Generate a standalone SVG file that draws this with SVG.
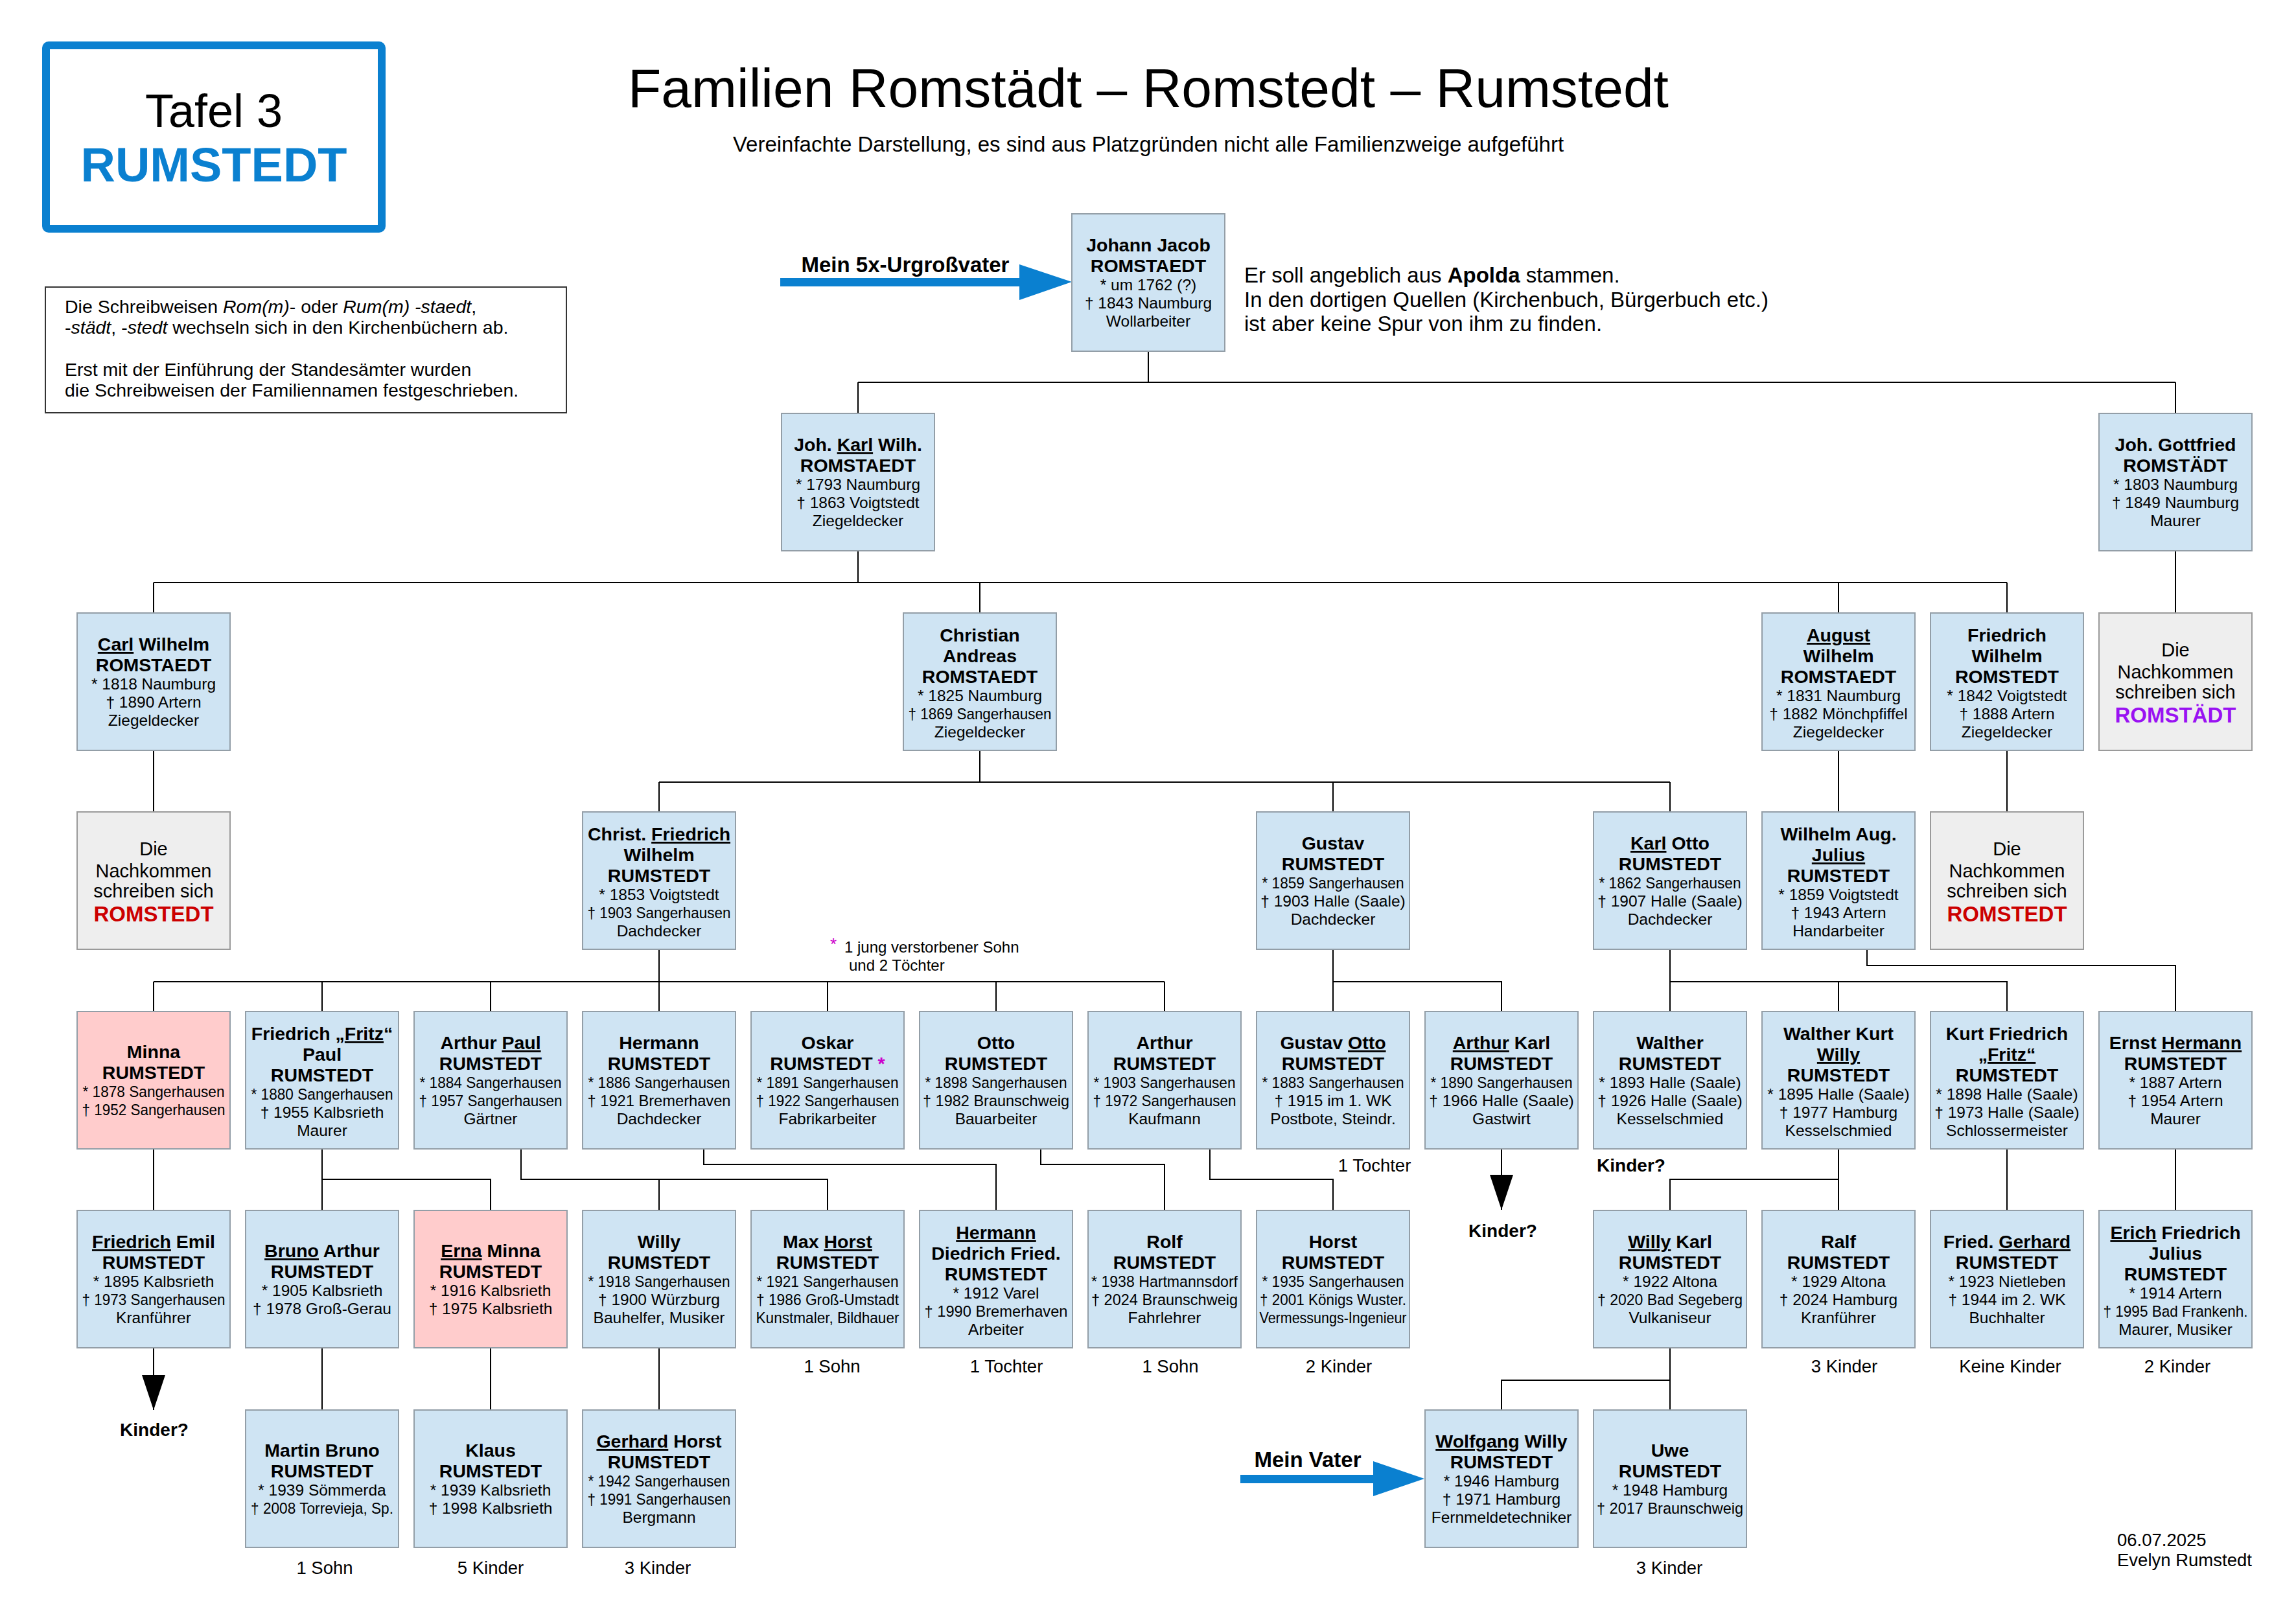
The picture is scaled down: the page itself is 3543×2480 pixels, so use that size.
<svg xmlns="http://www.w3.org/2000/svg" width="3543" height="2480" viewBox="0 0 3543 2480">
<style>
text{font-family:"Liberation Sans",Arial,Helvetica,sans-serif;fill:#000}
.bx{fill:#cfe4f3;stroke:#939ea7;stroke-width:2}
.pk{fill:#ffcccc;stroke:#939ea7;stroke-width:2}
.gy{fill:#eeeeee;stroke:#9a9a9a;stroke-width:2}
.b{font-size:28.5px;font-weight:bold;text-anchor:middle}
.n{font-size:24.5px;text-anchor:middle}
.g{font-size:29px;text-anchor:middle}
.gb{font-size:33px;font-weight:bold;text-anchor:middle}
.u{text-decoration:underline}
.lb{font-size:27.5px;text-anchor:middle}
.lbb{font-size:28px;font-weight:bold;text-anchor:middle}
.ln{fill:none;stroke:#000;stroke-width:2}
.blue{fill:#0a80d0}
</style>
<defs>
<marker id="ah" markerUnits="userSpaceOnUse" markerWidth="54" markerHeight="36" refX="54" refY="18" orient="auto">
<path d="M0,0 L54,18 L0,36 Z" fill="#000"/>
</marker>
</defs>
<rect width="3543" height="2480" fill="#fff"/>

<g id="header">
<rect x="71" y="70" width="518" height="283" rx="4" fill="none" stroke="#0a80d0" stroke-width="12"/>
<text x="330" y="196" style="font-size:72px;text-anchor:middle">Tafel 3</text>
<text x="330" y="280" style="font-size:74px;font-weight:bold;text-anchor:middle;fill:#0a80d0">RUMSTEDT</text>
<text x="1772" y="165" style="font-size:84px;text-anchor:middle">Familien Romstädt – Romstedt – Rumstedt</text>
<text x="1772" y="234" style="font-size:33px;text-anchor:middle">Vereinfachte Darstellung, es sind aus Platzgründen nicht alle Familienzweige aufgeführt</text>
</g>

<g id="note">
<rect x="70" y="443" width="804" height="194" fill="#fff" stroke="#333" stroke-width="2"/>
<text x="100" y="483" style="font-size:28.5px">Die Schreibweisen <tspan font-style="italic">Rom(m)</tspan>- oder <tspan font-style="italic">Rum(m) -staedt</tspan>,</text>
<text x="100" y="515" style="font-size:28.5px">-<tspan font-style="italic">städt</tspan>, -<tspan font-style="italic">stedt</tspan> wechseln sich in den Kirchenbüchern ab.</text>
<text x="100" y="580" style="font-size:28.5px">Erst mit der Einführung der Standesämter wurden</text>
<text x="100" y="612" style="font-size:28.5px">die Schreibweisen der Familiennamen festgeschrieben.</text>
</g>

<g id="annotations">
<text x="1397" y="420" style="font-size:33px;font-weight:bold;text-anchor:middle">Mein 5x-Urgroßvater</text>
<polygon class="blue" points="1204,429 1573,429 1573,408 1654,435 1573,463 1573,442 1204,442"/>
<text x="1920" y="436" style="font-size:33px">Er soll angeblich aus <tspan font-weight="bold">Apolda</tspan> stammen.</text>
<text x="1920" y="474" style="font-size:33px">In den dortigen Quellen (Kirchenbuch, Bürgerbuch etc.)</text>
<text x="1920" y="511" style="font-size:33px">ist aber keine Spur von ihm zu finden.</text>
<text x="2018" y="2264" style="font-size:33px;font-weight:bold;text-anchor:middle">Mein Vater</text>
<polygon class="blue" points="1914,2276 2119,2276 2119,2255 2198,2282 2119,2309 2119,2289 1914,2289"/>
<text x="1281" y="1466" style="font-size:26px;fill:#cc00cc">*</text>
<text x="1303" y="1470" style="font-size:24px">1 jung verstorbener Sohn</text>
<text x="1310" y="1498" style="font-size:24px">und 2 Töchter</text>
<text class="lb" x="2121" y="1808">1 Tochter</text>
<text class="lbb" x="2517" y="1808">Kinder?</text>
<text class="lbb" x="2319" y="1909">Kinder?</text>
<text class="lbb" x="238" y="2216">Kinder?</text>
<text class="lb" x="1284" y="2118">1 Sohn</text>
<text class="lb" x="1553" y="2118">1 Tochter</text>
<text class="lb" x="1806" y="2118">1 Sohn</text>
<text class="lb" x="2066" y="2118">2 Kinder</text>
<text class="lb" x="2846" y="2118">3 Kinder</text>
<text class="lb" x="3102" y="2118">Keine Kinder</text>
<text class="lb" x="3360" y="2118">2 Kinder</text>
<text class="lb" x="501" y="2429">1 Sohn</text>
<text class="lb" x="757" y="2429">5 Kinder</text>
<text class="lb" x="1015" y="2429">3 Kinder</text>
<text class="lb" x="2576" y="2429">3 Kinder</text>
<text x="3267" y="2386" style="font-size:27.5px">06.07.2025</text>
<text x="3267" y="2417" style="font-size:27.5px">Evelyn Rumstedt</text>
</g>

<g id="connectors">
<path class="ln" d="M1772,542 V590 M1324,590 H3357 M1324,590 V638 M3357,590 V638"/>
<path class="ln" d="M1324,851 V899 M237,899 H3097 M237,899 V946 M1512,899 V946 M2837,899 V946 M3097,899 V946 M3357,851 V946"/>
<path class="ln" d="M237,1159 V1253 M1512,1159 V1207 M1017,1207 H2577 M1017,1207 V1253 M2057,1207 V1253 M2577,1207 V1253 M2837,1159 V1253 M3097,1159 V1253"/>
<path class="ln" d="M1017,1466 V1515 M237,1515 H1797 M237,1515 V1561 M497,1515 V1561 M757,1515 V1561 M1017,1515 V1561 M1277,1515 V1561 M1537,1515 V1561 M1797,1515 V1561"/>
<path class="ln" d="M2057,1466 V1515 H2317 V1561 M2057,1515 V1561"/>
<path class="ln" d="M2577,1466 V1515 H3097 V1561 M2577,1515 V1561 M2837,1515 V1561"/>
<path class="ln" d="M2881,1466 V1490 H3357 V1561"/>
<path class="ln" d="M237,1773 V1868 M497,1773 V1820 H757 V1868 M497,1820 V1868"/>
<path class="ln" d="M804,1773 V1820 H1277 V1868 M1017,1820 V1868"/>
<path class="ln" d="M1086,1773 V1797 H1537 V1868"/>
<path class="ln" d="M1606,1773 V1797 H1797 V1868"/>
<path class="ln" d="M1867,1773 V1820 H2057 V1868"/>
<path class="ln" d="M2837,1773 V1820 H2577 V1868 M2837,1820 V1868 M3097,1773 V1868 M3357,1773 V1868"/>
<path class="ln" d="M497,2080 V2176 M757,2080 V2176 M1017,2080 V2176"/>
<path class="ln" d="M2577,2080 V2130 H2317 V2176 M2577,2130 V2176"/>
<line class="ln" x1="2317" y1="1773" x2="2317" y2="1867" marker-end="url(#ah)"/>
<line class="ln" x1="237" y1="2080" x2="237" y2="2176" marker-end="url(#ah)"/>
</g>

<g id="n-johann-jacob"><rect class="bx" x="1654" y="330" width="236" height="212"/>
<text class="b" x="1772" y="388">Johann Jacob</text><text class="b" x="1772" y="420">ROMSTAEDT</text>
<text class="n" x="1772" y="448">* um 1762 (?)</text><text class="n" x="1772" y="476">† 1843 Naumburg</text><text class="n" x="1772" y="504">Wollarbeiter</text></g>

<g id="n-joh-karl-wilh"><rect class="bx" x="1206" y="638" width="236" height="212"/>
<text class="b" x="1324" y="696">Joh. <tspan class="u">Karl</tspan> Wilh.</text><text class="b" x="1324" y="728">ROMSTAEDT</text>
<text class="n" x="1324" y="756">* 1793 Naumburg</text><text class="n" x="1324" y="784">† 1863 Voigtstedt</text><text class="n" x="1324" y="812">Ziegeldecker</text></g>

<g id="n-joh-gottfried"><rect class="bx" x="3239" y="638" width="236" height="212"/>
<text class="b" x="3357" y="696">Joh. Gottfried</text><text class="b" x="3357" y="728">ROMSTÄDT</text>
<text class="n" x="3357" y="756">* 1803 Naumburg</text><text class="n" x="3357" y="784">† 1849 Naumburg</text><text class="n" x="3357" y="812">Maurer</text></g>

<g id="n-carl-wilhelm"><rect class="bx" x="119" y="946" width="236" height="212"/>
<text class="b" x="237" y="1004"><tspan class="u">Carl</tspan> Wilhelm</text><text class="b" x="237" y="1036">ROMSTAEDT</text>
<text class="n" x="237" y="1064">* 1818 Naumburg</text><text class="n" x="237" y="1092">† 1890 Artern</text><text class="n" x="237" y="1120">Ziegeldecker</text></g>

<g id="n-christian-andreas"><rect class="bx" x="1394" y="946" width="236" height="212"/>
<text class="b" x="1512" y="990">Christian</text><text class="b" x="1512" y="1022">Andreas</text><text class="b" x="1512" y="1054">ROMSTAEDT</text>
<text class="n" x="1512" y="1082">* 1825 Naumburg</text><text class="n" x="1512" y="1110" textLength="221" lengthAdjust="spacingAndGlyphs">† 1869 Sangerhausen</text><text class="n" x="1512" y="1138">Ziegeldecker</text></g>

<g id="n-august-wilhelm"><rect class="bx" x="2719" y="946" width="236" height="212"/>
<text class="b" x="2837" y="990"><tspan class="u">August</tspan></text><text class="b" x="2837" y="1022">Wilhelm</text><text class="b" x="2837" y="1054">ROMSTAEDT</text>
<text class="n" x="2837" y="1082">* 1831 Naumburg</text><text class="n" x="2837" y="1110">† 1882 Mönchpfiffel</text><text class="n" x="2837" y="1138">Ziegeldecker</text></g>

<g id="n-friedrich-wilhelm"><rect class="bx" x="2979" y="946" width="236" height="212"/>
<text class="b" x="3097" y="990">Friedrich</text><text class="b" x="3097" y="1022">Wilhelm</text><text class="b" x="3097" y="1054">ROMSTEDT</text>
<text class="n" x="3097" y="1082">* 1842 Voigtstedt</text><text class="n" x="3097" y="1110">† 1888 Artern</text><text class="n" x="3097" y="1138">Ziegeldecker</text></g>

<g id="n-nachkommen-romstaedt"><rect class="gy" x="3239" y="946" width="236" height="212"/>
<text class="g" x="3357" y="1013">Die</text><text class="g" x="3357" y="1047">Nachkommen</text><text class="g" x="3357" y="1078">schreiben sich</text>
<text class="gb" x="3357" y="1115" style="fill:#9a12f2">ROMSTÄDT</text></g>

<g id="n-nachkommen-romstedt-1"><rect class="gy" x="119" y="1253" width="236" height="212"/>
<text class="g" x="237" y="1320">Die</text><text class="g" x="237" y="1354">Nachkommen</text><text class="g" x="237" y="1385">schreiben sich</text>
<text class="gb" x="237" y="1422" style="fill:#cc0000">ROMSTEDT</text></g>

<g id="n-christ-friedrich"><rect class="bx" x="899" y="1253" width="236" height="212"/>
<text class="b" x="1017" y="1297">Christ. <tspan class="u">Friedrich</tspan></text><text class="b" x="1017" y="1329">Wilhelm</text><text class="b" x="1017" y="1361">RUMSTEDT</text>
<text class="n" x="1017" y="1389">* 1853 Voigtstedt</text><text class="n" x="1017" y="1417" textLength="221" lengthAdjust="spacingAndGlyphs">† 1903 Sangerhausen</text><text class="n" x="1017" y="1445">Dachdecker</text></g>

<g id="n-gustav"><rect class="bx" x="1939" y="1253" width="236" height="212"/>
<text class="b" x="2057" y="1311">Gustav</text><text class="b" x="2057" y="1343">RUMSTEDT</text>
<text class="n" x="2057" y="1371" textLength="219" lengthAdjust="spacingAndGlyphs">* 1859 Sangerhausen</text><text class="n" x="2057" y="1399">† 1903 Halle (Saale)</text><text class="n" x="2057" y="1427">Dachdecker</text></g>

<g id="n-karl-otto"><rect class="bx" x="2459" y="1253" width="236" height="212"/>
<text class="b" x="2577" y="1311"><tspan class="u">Karl</tspan> Otto</text><text class="b" x="2577" y="1343">RUMSTEDT</text>
<text class="n" x="2577" y="1371" textLength="219" lengthAdjust="spacingAndGlyphs">* 1862 Sangerhausen</text><text class="n" x="2577" y="1399">† 1907 Halle (Saale)</text><text class="n" x="2577" y="1427">Dachdecker</text></g>

<g id="n-wilhelm-aug-julius"><rect class="bx" x="2719" y="1253" width="236" height="212"/>
<text class="b" x="2837" y="1297">Wilhelm Aug.</text><text class="b" x="2837" y="1329"><tspan class="u">Julius</tspan></text><text class="b" x="2837" y="1361">RUMSTEDT</text>
<text class="n" x="2837" y="1389">* 1859 Voigtstedt</text><text class="n" x="2837" y="1417">† 1943 Artern</text><text class="n" x="2837" y="1445">Handarbeiter</text></g>

<g id="n-nachkommen-romstedt-2"><rect class="gy" x="2979" y="1253" width="236" height="212"/>
<text class="g" x="3097" y="1320">Die</text><text class="g" x="3097" y="1354">Nachkommen</text><text class="g" x="3097" y="1385">schreiben sich</text>
<text class="gb" x="3097" y="1422" style="fill:#cc0000">ROMSTEDT</text></g>

<g id="n-minna"><rect class="pk" x="119" y="1561" width="236" height="212"/>
<text class="b" x="237" y="1633">Minna</text><text class="b" x="237" y="1665">RUMSTEDT</text>
<text class="n" x="237" y="1693" textLength="219" lengthAdjust="spacingAndGlyphs">* 1878 Sangerhausen</text><text class="n" x="237" y="1721" textLength="221" lengthAdjust="spacingAndGlyphs">† 1952 Sangerhausen</text></g>

<g id="n-friedrich-fritz-paul"><rect class="bx" x="379" y="1561" width="236" height="212"/>
<text class="b" x="497" y="1605">Friedrich „<tspan class="u">Fritz</tspan>“</text><text class="b" x="497" y="1637">Paul</text><text class="b" x="497" y="1669">RUMSTEDT</text>
<text class="n" x="497" y="1697" textLength="219" lengthAdjust="spacingAndGlyphs">* 1880 Sangerhausen</text><text class="n" x="497" y="1725">† 1955 Kalbsrieth</text><text class="n" x="497" y="1753">Maurer</text></g>

<g id="n-arthur-paul"><rect class="bx" x="639" y="1561" width="236" height="212"/>
<text class="b" x="757" y="1619">Arthur <tspan class="u">Paul</tspan></text><text class="b" x="757" y="1651">RUMSTEDT</text>
<text class="n" x="757" y="1679" textLength="219" lengthAdjust="spacingAndGlyphs">* 1884 Sangerhausen</text><text class="n" x="757" y="1707" textLength="221" lengthAdjust="spacingAndGlyphs">† 1957 Sangerhausen</text><text class="n" x="757" y="1735">Gärtner</text></g>

<g id="n-hermann"><rect class="bx" x="899" y="1561" width="236" height="212"/>
<text class="b" x="1017" y="1619">Hermann</text><text class="b" x="1017" y="1651">RUMSTEDT</text>
<text class="n" x="1017" y="1679" textLength="219" lengthAdjust="spacingAndGlyphs">* 1886 Sangerhausen</text><text class="n" x="1017" y="1707" textLength="221" lengthAdjust="spacingAndGlyphs">† 1921 Bremerhaven</text><text class="n" x="1017" y="1735">Dachdecker</text></g>

<g id="n-oskar"><rect class="bx" x="1159" y="1561" width="236" height="212"/>
<text class="b" x="1277" y="1619">Oskar</text><text class="b" x="1277" y="1651">RUMSTEDT <tspan style="fill:#cc00cc">*</tspan></text>
<text class="n" x="1277" y="1679" textLength="219" lengthAdjust="spacingAndGlyphs">* 1891 Sangerhausen</text><text class="n" x="1277" y="1707" textLength="221" lengthAdjust="spacingAndGlyphs">† 1922 Sangerhausen</text><text class="n" x="1277" y="1735">Fabrikarbeiter</text></g>

<g id="n-otto"><rect class="bx" x="1419" y="1561" width="236" height="212"/>
<text class="b" x="1537" y="1619">Otto</text><text class="b" x="1537" y="1651">RUMSTEDT</text>
<text class="n" x="1537" y="1679" textLength="219" lengthAdjust="spacingAndGlyphs">* 1898 Sangerhausen</text><text class="n" x="1537" y="1707" textLength="226" lengthAdjust="spacingAndGlyphs">† 1982 Braunschweig</text><text class="n" x="1537" y="1735">Bauarbeiter</text></g>

<g id="n-arthur"><rect class="bx" x="1679" y="1561" width="236" height="212"/>
<text class="b" x="1797" y="1619">Arthur</text><text class="b" x="1797" y="1651">RUMSTEDT</text>
<text class="n" x="1797" y="1679" textLength="219" lengthAdjust="spacingAndGlyphs">* 1903 Sangerhausen</text><text class="n" x="1797" y="1707" textLength="221" lengthAdjust="spacingAndGlyphs">† 1972 Sangerhausen</text><text class="n" x="1797" y="1735">Kaufmann</text></g>

<g id="n-gustav-otto"><rect class="bx" x="1939" y="1561" width="236" height="212"/>
<text class="b" x="2057" y="1619">Gustav <tspan class="u">Otto</tspan></text><text class="b" x="2057" y="1651">RUMSTEDT</text>
<text class="n" x="2057" y="1679" textLength="219" lengthAdjust="spacingAndGlyphs">* 1883 Sangerhausen</text><text class="n" x="2057" y="1707">† 1915 im 1. WK</text><text class="n" x="2057" y="1735">Postbote, Steindr.</text></g>

<g id="n-arthur-karl"><rect class="bx" x="2199" y="1561" width="236" height="212"/>
<text class="b" x="2317" y="1619"><tspan class="u">Arthur</tspan> Karl</text><text class="b" x="2317" y="1651">RUMSTEDT</text>
<text class="n" x="2317" y="1679" textLength="219" lengthAdjust="spacingAndGlyphs">* 1890 Sangerhausen</text><text class="n" x="2317" y="1707">† 1966 Halle (Saale)</text><text class="n" x="2317" y="1735">Gastwirt</text></g>

<g id="n-walther"><rect class="bx" x="2459" y="1561" width="236" height="212"/>
<text class="b" x="2577" y="1619">Walther</text><text class="b" x="2577" y="1651">RUMSTEDT</text>
<text class="n" x="2577" y="1679">* 1893 Halle (Saale)</text><text class="n" x="2577" y="1707">† 1926 Halle (Saale)</text><text class="n" x="2577" y="1735">Kesselschmied</text></g>

<g id="n-walther-kurt-willy"><rect class="bx" x="2719" y="1561" width="236" height="212"/>
<text class="b" x="2837" y="1605">Walther Kurt</text><text class="b" x="2837" y="1637"><tspan class="u">Willy</tspan></text><text class="b" x="2837" y="1669">RUMSTEDT</text>
<text class="n" x="2837" y="1697">* 1895 Halle (Saale)</text><text class="n" x="2837" y="1725">† 1977 Hamburg</text><text class="n" x="2837" y="1753">Kesselschmied</text></g>

<g id="n-kurt-friedrich-fritz"><rect class="bx" x="2979" y="1561" width="236" height="212"/>
<text class="b" x="3097" y="1605">Kurt Friedrich</text><text class="b" x="3097" y="1637"><tspan class="u">„Fritz“</tspan></text><text class="b" x="3097" y="1669">RUMSTEDT</text>
<text class="n" x="3097" y="1697">* 1898 Halle (Saale)</text><text class="n" x="3097" y="1725">† 1973 Halle (Saale)</text><text class="n" x="3097" y="1753">Schlossermeister</text></g>

<g id="n-ernst-hermann"><rect class="bx" x="3239" y="1561" width="236" height="212"/>
<text class="b" x="3357" y="1619">Ernst <tspan class="u">Hermann</tspan></text><text class="b" x="3357" y="1651">RUMSTEDT</text>
<text class="n" x="3357" y="1679">* 1887 Artern</text><text class="n" x="3357" y="1707">† 1954 Artern</text><text class="n" x="3357" y="1735">Maurer</text></g>

<g id="n-friedrich-emil"><rect class="bx" x="119" y="1868" width="236" height="212"/>
<text class="b" x="237" y="1926"><tspan class="u">Friedrich</tspan> Emil</text><text class="b" x="237" y="1958">RUMSTEDT</text>
<text class="n" x="237" y="1986">* 1895 Kalbsrieth</text><text class="n" x="237" y="2014" textLength="221" lengthAdjust="spacingAndGlyphs">† 1973 Sangerhausen</text><text class="n" x="237" y="2042">Kranführer</text></g>

<g id="n-bruno-arthur"><rect class="bx" x="379" y="1868" width="236" height="212"/>
<text class="b" x="497" y="1940"><tspan class="u">Bruno</tspan> Arthur</text><text class="b" x="497" y="1972">RUMSTEDT</text>
<text class="n" x="497" y="2000">* 1905 Kalbsrieth</text><text class="n" x="497" y="2028">† 1978 Groß-Gerau</text></g>

<g id="n-erna-minna"><rect class="pk" x="639" y="1868" width="236" height="212"/>
<text class="b" x="757" y="1940"><tspan class="u">Erna</tspan> Minna</text><text class="b" x="757" y="1972">RUMSTEDT</text>
<text class="n" x="757" y="2000">* 1916 Kalbsrieth</text><text class="n" x="757" y="2028">† 1975 Kalbsrieth</text></g>

<g id="n-willy"><rect class="bx" x="899" y="1868" width="236" height="212"/>
<text class="b" x="1017" y="1926">Willy</text><text class="b" x="1017" y="1958">RUMSTEDT</text>
<text class="n" x="1017" y="1986" textLength="219" lengthAdjust="spacingAndGlyphs">* 1918 Sangerhausen</text><text class="n" x="1017" y="2014">† 1900 Würzburg</text><text class="n" x="1017" y="2042">Bauhelfer, Musiker</text></g>

<g id="n-max-horst"><rect class="bx" x="1159" y="1868" width="236" height="212"/>
<text class="b" x="1277" y="1926">Max <tspan class="u">Horst</tspan></text><text class="b" x="1277" y="1958">RUMSTEDT</text>
<text class="n" x="1277" y="1986" textLength="219" lengthAdjust="spacingAndGlyphs">* 1921 Sangerhausen</text><text class="n" x="1277" y="2014" textLength="220" lengthAdjust="spacingAndGlyphs">† 1986 Groß-Umstadt</text><text class="n" x="1277" y="2042" textLength="221" lengthAdjust="spacingAndGlyphs">Kunstmaler, Bildhauer</text></g>

<g id="n-hermann-diedrich"><rect class="bx" x="1419" y="1868" width="236" height="212"/>
<text class="b" x="1537" y="1912"><tspan class="u">Hermann</tspan></text><text class="b" x="1537" y="1944">Diedrich Fried.</text><text class="b" x="1537" y="1976">RUMSTEDT</text>
<text class="n" x="1537" y="2004">* 1912 Varel</text><text class="n" x="1537" y="2032" textLength="221" lengthAdjust="spacingAndGlyphs">† 1990 Bremerhaven</text><text class="n" x="1537" y="2060">Arbeiter</text></g>

<g id="n-rolf"><rect class="bx" x="1679" y="1868" width="236" height="212"/>
<text class="b" x="1797" y="1926">Rolf</text><text class="b" x="1797" y="1958">RUMSTEDT</text>
<text class="n" x="1797" y="1986" textLength="226" lengthAdjust="spacingAndGlyphs">* 1938 Hartmannsdorf</text><text class="n" x="1797" y="2014" textLength="226" lengthAdjust="spacingAndGlyphs">† 2024 Braunschweig</text><text class="n" x="1797" y="2042">Fahrlehrer</text></g>

<g id="n-horst"><rect class="bx" x="1939" y="1868" width="236" height="212"/>
<text class="b" x="2057" y="1926">Horst</text><text class="b" x="2057" y="1958">RUMSTEDT</text>
<text class="n" x="2057" y="1986" textLength="219" lengthAdjust="spacingAndGlyphs">* 1935 Sangerhausen</text><text class="n" x="2057" y="2014" textLength="226" lengthAdjust="spacingAndGlyphs">† 2001 Königs Wuster.</text><text class="n" x="2057" y="2042" textLength="227" lengthAdjust="spacingAndGlyphs">Vermessungs-Ingenieur</text></g>

<g id="n-willy-karl"><rect class="bx" x="2459" y="1868" width="236" height="212"/>
<text class="b" x="2577" y="1926"><tspan class="u">Willy</tspan> Karl</text><text class="b" x="2577" y="1958">RUMSTEDT</text>
<text class="n" x="2577" y="1986">* 1922 Altona</text><text class="n" x="2577" y="2014" textLength="224" lengthAdjust="spacingAndGlyphs">† 2020 Bad Segeberg</text><text class="n" x="2577" y="2042">Vulkaniseur</text></g>

<g id="n-ralf"><rect class="bx" x="2719" y="1868" width="236" height="212"/>
<text class="b" x="2837" y="1926">Ralf</text><text class="b" x="2837" y="1958">RUMSTEDT</text>
<text class="n" x="2837" y="1986">* 1929 Altona</text><text class="n" x="2837" y="2014">† 2024 Hamburg</text><text class="n" x="2837" y="2042">Kranführer</text></g>

<g id="n-fried-gerhard"><rect class="bx" x="2979" y="1868" width="236" height="212"/>
<text class="b" x="3097" y="1926">Fried. <tspan class="u">Gerhard</tspan></text><text class="b" x="3097" y="1958">RUMSTEDT</text>
<text class="n" x="3097" y="1986">* 1923 Nietleben</text><text class="n" x="3097" y="2014">† 1944 im 2. WK</text><text class="n" x="3097" y="2042">Buchhalter</text></g>

<g id="n-erich-friedrich-julius"><rect class="bx" x="3239" y="1868" width="236" height="212"/>
<text class="b" x="3357" y="1912"><tspan class="u">Erich</tspan> Friedrich</text><text class="b" x="3357" y="1944">Julius</text><text class="b" x="3357" y="1976">RUMSTEDT</text>
<text class="n" x="3357" y="2004">* 1914 Artern</text><text class="n" x="3357" y="2032" textLength="223" lengthAdjust="spacingAndGlyphs">† 1995 Bad Frankenh.</text><text class="n" x="3357" y="2060">Maurer, Musiker</text></g>

<g id="n-martin-bruno"><rect class="bx" x="379" y="2176" width="236" height="212"/>
<text class="b" x="497" y="2248">Martin Bruno</text><text class="b" x="497" y="2280">RUMSTEDT</text>
<text class="n" x="497" y="2308">* 1939 Sömmerda</text><text class="n" x="497" y="2336" textLength="220" lengthAdjust="spacingAndGlyphs">† 2008 Torrevieja, Sp.</text></g>

<g id="n-klaus"><rect class="bx" x="639" y="2176" width="236" height="212"/>
<text class="b" x="757" y="2248">Klaus</text><text class="b" x="757" y="2280">RUMSTEDT</text>
<text class="n" x="757" y="2308">* 1939 Kalbsrieth</text><text class="n" x="757" y="2336">† 1998 Kalbsrieth</text></g>

<g id="n-gerhard-horst"><rect class="bx" x="899" y="2176" width="236" height="212"/>
<text class="b" x="1017" y="2234"><tspan class="u">Gerhard</tspan> Horst</text><text class="b" x="1017" y="2266">RUMSTEDT</text>
<text class="n" x="1017" y="2294" textLength="219" lengthAdjust="spacingAndGlyphs">* 1942 Sangerhausen</text><text class="n" x="1017" y="2322" textLength="221" lengthAdjust="spacingAndGlyphs">† 1991 Sangerhausen</text><text class="n" x="1017" y="2350">Bergmann</text></g>

<g id="n-wolfgang-willy"><rect class="bx" x="2199" y="2176" width="236" height="212"/>
<text class="b" x="2317" y="2234"><tspan class="u">Wolfgang</tspan> Willy</text><text class="b" x="2317" y="2266">RUMSTEDT</text>
<text class="n" x="2317" y="2294">* 1946 Hamburg</text><text class="n" x="2317" y="2322">† 1971 Hamburg</text><text class="n" x="2317" y="2350">Fernmeldetechniker</text></g>

<g id="n-uwe"><rect class="bx" x="2459" y="2176" width="236" height="212"/>
<text class="b" x="2577" y="2248">Uwe</text><text class="b" x="2577" y="2280">RUMSTEDT</text>
<text class="n" x="2577" y="2308">* 1948 Hamburg</text><text class="n" x="2577" y="2336" textLength="226" lengthAdjust="spacingAndGlyphs">† 2017 Braunschweig</text></g>
</svg>
